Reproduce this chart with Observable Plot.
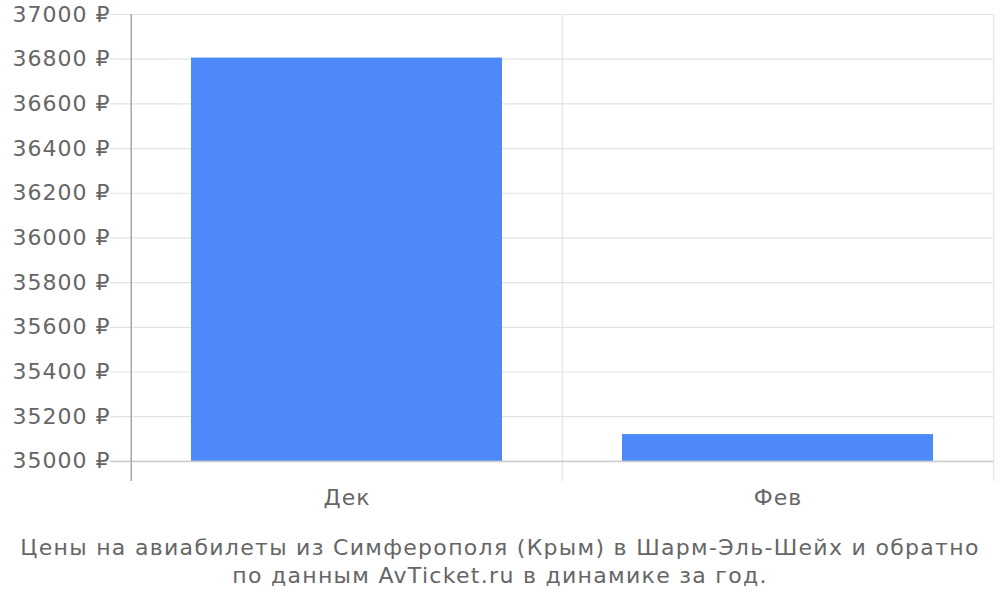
<!DOCTYPE html>
<html>
<head>
<meta charset="utf-8">
<script src="https://cdn.jsdelivr.net/npm/d3@7"></script>
<script src="https://cdn.jsdelivr.net/npm/@observablehq/plot@0.6"></script>
<style>
  body { margin: 0; background: #fff; }
  #chart svg text { letter-spacing: 1px; }
  #caption { font-family: "DejaVu Sans", sans-serif; font-size: 22px; letter-spacing: 1.3px; color: #666; text-align: center; line-height: 28px; margin-top: 14px; }
</style>
</head>
<body>
<div id="chart"></div>
<div id="caption">Цены на авиабилеты из Симферополя (Крым) в Шарм-Эль-Шейх и обратно<br>по данным AvTicket.ru в динамике за год.</div>
<script>
const months = ["Дек", "Фев"];
const prices = [36805, 35120];
const yTicks = [35000, 35200, 35400, 35600, 35800, 36000, 36200, 36400, 36600, 36800, 37000];
const baseValue = 35000;

const data = months.map((m, i) => ({month: m, price: prices[i]}));

const W = 1000, ML = 130, MR = 7;
const bw = (W - ML - MR) / months.length;

const chart = Plot.plot({
  width: W,
  height: 520,
  marginTop: 14,
  marginBottom: 39,
  marginLeft: ML,
  marginRight: MR,
  style: {fontFamily: "DejaVu Sans, sans-serif", fontSize: "22px", color: "#666", background: "#fff"},
  x: {domain: months, padding: 0, axis: null},
  y: {domain: [34910, 37000], axis: null},
  marks: [
    Plot.ruleY(yTicks, {stroke: "#e3e3e3", strokeWidth: 1.2, insetLeft: -20}),
    Plot.ruleX(months, {x: d => d, dx: -bw / 2, stroke: "#e3e3e3", strokeWidth: 1.2}),
    Plot.ruleX([months[months.length - 1]], {x: d => d, dx: bw / 2, stroke: "#e3e3e3", strokeWidth: 1.2}),
    Plot.barY(data, {x: "month", y1: baseValue, y2: "price", fill: "#4d89f9", insetLeft: 60, insetRight: 60}),
    Plot.ruleY([baseValue], {stroke: "#cccccc", strokeWidth: 1.5, insetLeft: -20}),
    Plot.ruleX([months[0]], {x: d => d, dx: -bw / 2, stroke: "#aaaaaa", strokeWidth: 1.5}),
    Plot.axisY({ticks: yTicks, tickSize: 0, tickPadding: 20, tickFormat: d => `${d} ₽`, fontSize: 22, label: null}),
    Plot.axisX({tickSize: 0, tickPadding: 8, fontSize: 22, label: null})
  ]
});
document.getElementById("chart").appendChild(chart);
</script>
</body>
</html>
